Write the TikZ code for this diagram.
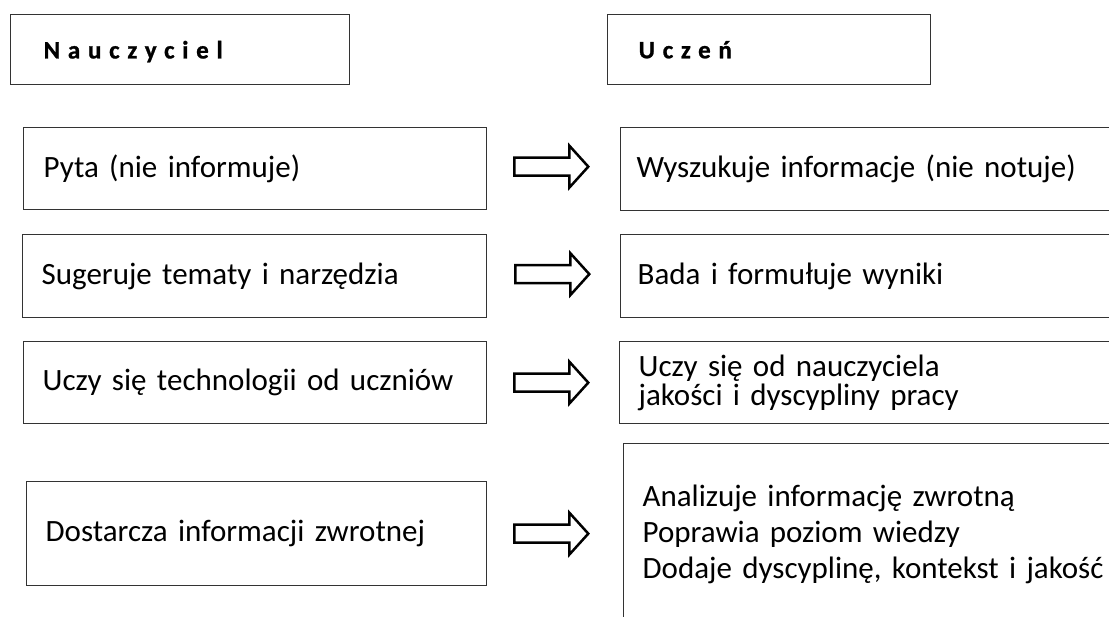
\documentclass[tikz,border=0pt]{standalone}
\usepackage{fontspec}
\setmainfont{Carlito}
\usetikzlibrary{calc}

\tikzset{
  % hollow block arrow, tail at the origin, pointing right
  hollowarrow/.pic={
    \draw[line width=2.5pt, line join=miter, fill=white]
      (0,-9) -- (55,-9) -- (55,-21) -- (74,0) -- (55,21) -- (55,9) -- (0,9) -- cycle;
  }
}

\begin{document}
\begin{tikzpicture}[x=1pt, y=-1pt,
  frame/.style={draw=black!80, line width=1.3pt, rectangle, anchor=north west,
                inner ysep=0pt, align=left},
  head/.style={frame, text depth=0pt,
               font=\fontsize{25}{30}\selectfont\bfseries\addfontfeatures{LetterSpace=31,FakeBold=1}},
  box/.style={frame, font=\fontsize{31}{37}\selectfont}
]
\useasboundingbox (0,0) rectangle (1109,617);
\fill[white] (0,0) rectangle (1109,617);
\clip (0,0) rectangle (1109,617);

% column headers
\node[head, inner xsep=33pt, text width=273pt, minimum height=70pt] (tH) at (10,14) {Nauczyciel};
\node[head, inner xsep=31pt, text width=261pt, minimum height=70pt] (sH) at (607,14) {Uczeń};

% teacher column
\node[box, inner xsep=20pt, text width=423pt, minimum height=82pt] (L1) at (23,127) {Pyta (nie informuje)};
\node[box, inner xsep=19pt, text width=426pt, minimum height=83pt] (L2) at (22,234) {Sugeruje tematy i narzędzia};
\node[box, inner xsep=19pt, text width=425pt, minimum height=82pt] (L3) at (23,341) {Uczy się technologii od uczniów};
\node[box, inner xsep=19pt, text width=422pt, minimum height=104pt] (L4) at (26,481) {Dostarcza informacji zwrotnej};

% student column (boxes run past the right edge)
\node[box, inner xsep=16pt, text width=498pt, minimum height=83pt] (R1) at (620,127) {Wyszukuje informacje (nie notuje)};
\node[box, inner xsep=17pt, text width=496pt, minimum height=83pt] (R2) at (620,234) {Bada i formułuje wyniki};
\node[box, inner xsep=19pt, text width=493pt, minimum height=82pt,
      font=\fontsize{31}{29}\selectfont] (R3) at (619,341)
      {Uczy się od nauczyciela\\jakości i dyscypliny pracy};
\node[box, inner xsep=19pt, text width=490pt, minimum height=181pt,
      font=\fontsize{31}{36}\selectfont] (R4) at (623,443)
      {Analizuje informację zwrotną\\Poprawia poziom wiedzy\\Dodaje dyscyplinę, kontekst i jakość};

% arrows from teacher to student
\pic (A1) at ($(L1.east)+(27,-2)$) {hollowarrow};
\pic (A2) at ($(L2.east)+(28,-2)$) {hollowarrow};
\pic (A3) at ($(L3.east)+(27,0)$) {hollowarrow};
\pic (A4) at ($(L4.east)+(27,0)$) {hollowarrow};
\end{tikzpicture}
\end{document}
